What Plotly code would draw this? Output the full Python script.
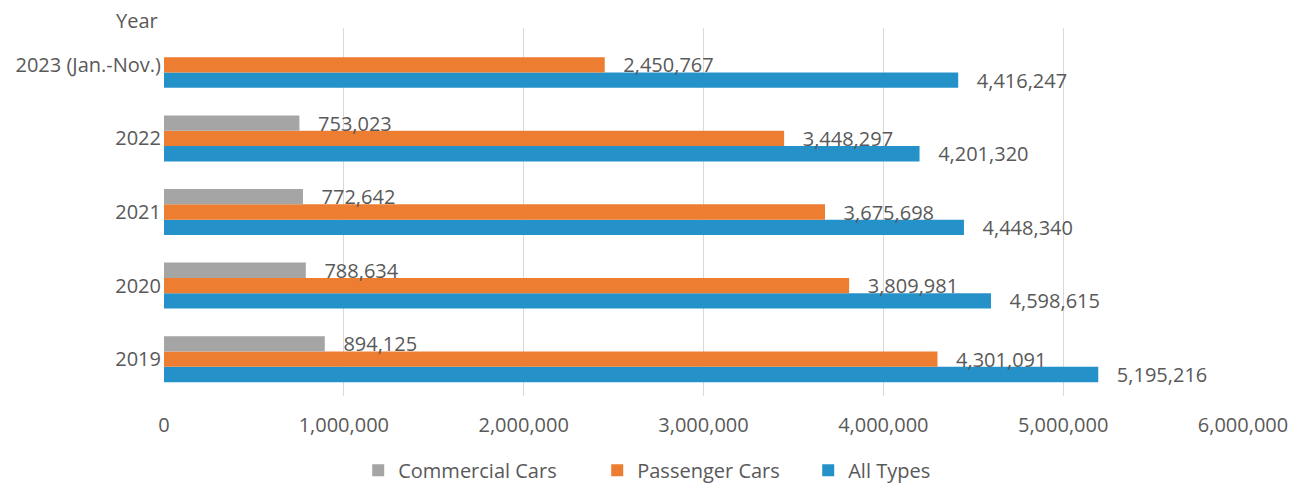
import plotly.graph_objects as go

years = ["2019", "2020", "2021", "2022", "2023 (Jan.-Nov.)"]
all_types = [5195216, 4598615, 4448340, 4201320, 4416247]
passenger = [4301091, 3809981, 3675698, 3448297, 2450767]
commercial = [894125, 788634, 772642, 753023, None]

x_ticks = [0, 1000000, 2000000, 3000000, 4000000, 5000000, 6000000]

FONT = "Open Sans"
TXT = "#595959"

fig = go.Figure()
for name, vals, color, lw in [
    ("All Types", all_types, "#2492C9", 120),
    ("Passenger Cars", passenger, "#ED7D31", 166),
    ("Commercial Cars", commercial, "#A5A5A5", 194),
]:
    fig.add_trace(go.Bar(
        y=years, x=vals, name=name, orientation="h",
        marker=dict(color=color, line=dict(width=0)),
        texttemplate="\u00a0\u00a0\u00a0%{x:,}",
        textposition="outside",
        textfont=dict(family=FONT, size=20, color=TXT),
        constraintext="none",
        cliponaxis=False,
        legendwidth=lw,
    ))

fig.update_layout(
    width=1288, height=477,
    margin=dict(l=156, r=53, t=20, b=89, autoexpand=False),
    paper_bgcolor="white", plot_bgcolor="white",
    barmode="group", bargap=0.375, bargroupgap=0,
    font=dict(family=FONT, size=20, color=TXT),
    showlegend=True,
    legend=dict(
        orientation="h", traceorder="reversed",
        x=0.18, xanchor="left",
        y=-0.149, yanchor="top",
        font=dict(family=FONT, size=20, color=TXT),
    ),
    xaxis=dict(
        range=[0, 6000000], tickvals=x_ticks, tickformat=",",
        showgrid=True, gridcolor="#D9D9D9", gridwidth=1,
        zeroline=False, showline=False, automargin=False,
        ticklabelstandoff=15,
        tickfont=dict(family=FONT, size=20, color=TXT),
    ),
    yaxis=dict(
        showgrid=False, zeroline=False, showline=False, automargin=False,
        tickfont=dict(family=FONT, size=20, color=TXT),
        ticklabelstandoff=2,
    ),
    annotations=[dict(
        text="Year", xref="paper", yref="paper",
        x=0, y=1.0217, xanchor="right", yanchor="middle",
        xshift=-4, showarrow=False,
        font=dict(family=FONT, size=20, color=TXT),
    )],
)

fig.write_html("out.html")
